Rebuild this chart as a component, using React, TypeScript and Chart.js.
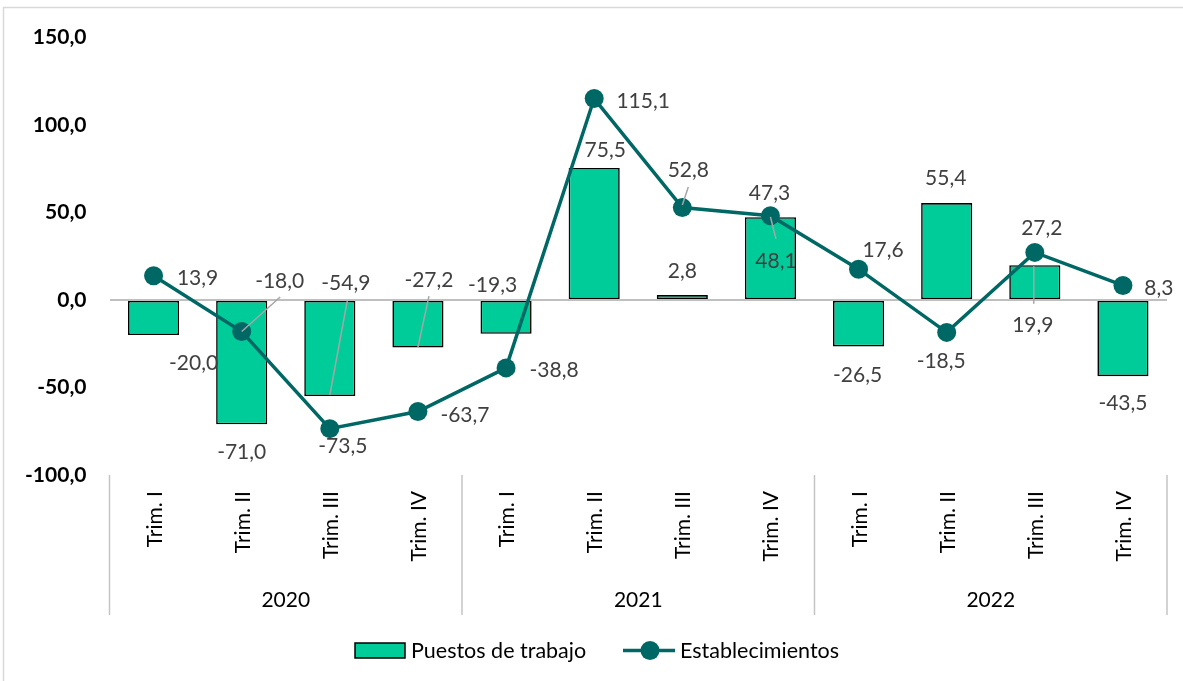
import { useEffect, useRef } from 'react';
import { Chart, registerables } from 'chart.js';

Chart.register(...registerables);

// ---- data ----
const quarters = ['Trim. I', 'Trim. II', 'Trim. III', 'Trim. IV', 'Trim. I', 'Trim. II', 'Trim. III', 'Trim. IV', 'Trim. I', 'Trim. II', 'Trim. III', 'Trim. IV'];
const years = ['2020', '2021', '2022'];
const quartersPerYear = 4;
const puestos = [-20.0, -71.0, -54.9, -27.2, -19.3, 75.5, 2.8, 47.3, -26.5, 55.4, 19.9, -43.5];
const establecimientos = [13.9, -18.0, -73.5, -63.7, -38.8, 115.1, 52.8, 48.1, 17.6, -18.5, 27.2, 8.3];
const yTicks = [-100, -50, 0, 50, 100, 150];
const seriesNames = ['Puestos de trabajo', 'Establecimientos'];

// ---- label placement (pixel offsets from the mark, styling only) ----
const barLabelOffsets = [[40, 27.5], [0, 27], [16, -113.5], [11, -68], [-13.5, -49], [11, -18.5], [0, -24.5], [-1, -25], [-1, 28], [-1, -25.5], [-2, 59], [0, 26.5]];
const lineLabelOffsets = [[44, 2], [38, -51], [13, 17], [47, 3], [48, 1.5], [49, 2], [6, -38], [5.5, 44.5], [24.5, -20], [-5.5, 28], [7, -25], [36, 2]];
// leaders: [labelDx, labelDy, markDx, markDy]
const barLeaders: Record<number, number[]> = { 2: [1.5, 18, 0, -1], 3: [0, 16.5, 0, -0.5], 10: [1, -20.5, -1, 1] };
const lineLeaders: Record<number, number[]> = { 1: [0.5, 16.5, 0, 0], 6: [0, 17.5, 0, -2.5], 7: [0, -21.5, 0, 1] };

const BAR = '#00CC99';
const LINE = '#006864';
const LABEL = '#404040';
const FONT = 'Lato, "Open Sans", sans-serif';

const fmt = (v: number) => v.toFixed(1).replace('.', ',');

const overlay = {
  id: 'overlay',
  afterDatasetsDraw(chart: any) {
    const ctx = chart.ctx;
    const bars = chart.getDatasetMeta(0).data;
    const pts = chart.getDatasetMeta(1).data;
    ctx.save();
    const drawSet = (els: any[], vals: number[], offs: number[][], leaders: Record<number, number[]>) => {
      els.forEach((el: any, i: number) => {
        const lx = el.x + offs[i][0];
        const ly = el.y + offs[i][1];
        const ld = leaders[i];
        if (ld) {
          ctx.strokeStyle = '#a6a6a6';
          ctx.lineWidth = 1.5;
          ctx.beginPath();
          ctx.moveTo(lx + ld[0], ly + ld[1]);
          ctx.lineTo(el.x + ld[2], el.y + ld[3]);
          ctx.stroke();
        }
        ctx.fillStyle = LABEL;
        ctx.font = `21px ${FONT}`;
        ctx.textAlign = 'center';
        ctx.textBaseline = 'alphabetic';
        ctx.fillText(fmt(vals[i]), lx, ly + 7.5);
      });
    };
    drawSet(bars, puestos, barLabelOffsets, barLeaders);
    drawSet(pts, establecimientos, lineLabelOffsets, lineLeaders);
    ctx.restore();
  },
  afterDraw(chart: any) {
    const ctx = chart.ctx;
    const x = chart.scales.x;
    const area = chart.chartArea;
    ctx.save();
    // outer border
    ctx.strokeStyle = '#d9d9d9';
    ctx.lineWidth = 1.5;
    ctx.strokeRect(3.5, 7.5, 1200, 700);

    // category labels (rotated)
    ctx.fillStyle = '#000';
    ctx.font = `21px ${FONT}`;
    quarters.forEach((q, i) => {
      const cx = x.getPixelForValue(i);
      ctx.save();
      ctx.translate(cx + 8, 491);
      ctx.rotate(-Math.PI / 2);
      ctx.textAlign = 'right';
      ctx.textBaseline = 'alphabetic';
      ctx.fillText(q, 0, 0);
      ctx.restore();
    });
    // group separators and year labels
    const catW = (area.right - area.left) / quarters.length;
    ctx.strokeStyle = '#c4c4c4';
    ctx.lineWidth = 1.5;
    for (let k = 0; k <= years.length; k++) {
      const sx = area.left + k * quartersPerYear * catW;
      ctx.beginPath();
      ctx.moveTo(sx, area.bottom);
      ctx.lineTo(sx, 615);
      ctx.stroke();
    }
    ctx.textAlign = 'center';
    ctx.textBaseline = 'alphabetic';
    years.forEach((y, k) => {
      const gx = area.left + (k + 0.5) * quartersPerYear * catW;
      ctx.fillText(y, gx, 607);
    });

    // legend
    ctx.font = `21.5px ${FONT}`;
    ctx.textAlign = 'left';
    ctx.fillStyle = BAR;
    ctx.fillRect(355, 643, 50, 15);
    ctx.strokeStyle = '#000';
    ctx.lineWidth = 1.5;
    ctx.strokeRect(355, 643, 50, 15);
    ctx.fillStyle = '#000';
    ctx.fillText(seriesNames[0], 411, 658);

    ctx.strokeStyle = LINE;
    ctx.lineWidth = 3.5;
    ctx.beginPath();
    ctx.moveTo(623, 650.5);
    ctx.lineTo(675, 650.5);
    ctx.stroke();
    ctx.fillStyle = LINE;
    ctx.beginPath();
    ctx.arc(650, 650.5, 9.5, 0, Math.PI * 2);
    ctx.fill();
    ctx.fillStyle = '#000';
    ctx.fillText(seriesNames[1], 680, 658);
    ctx.restore();
  },
};

export default function App() {
  const ref = useRef<HTMLCanvasElement>(null);
  useEffect(() => {
    const canvas = ref.current!;
    const chart = new Chart(canvas, {
      type: 'bar',
      data: {
        labels: quarters,
        datasets: [
          {
            type: 'bar',
            label: seriesNames[0],
            data: puestos,
            backgroundColor: BAR,
            borderColor: '#000',
            borderWidth: 1.6,
            borderSkipped: false,
            barPercentage: 0.58,
            categoryPercentage: 1,
            order: 1,
          } as any,
          {
            type: 'line',
            label: seriesNames[1],
            data: establecimientos,
            borderColor: LINE,
            backgroundColor: LINE,
            borderWidth: 3.5,
            pointRadius: 9.5,
            pointBackgroundColor: LINE,
            pointBorderColor: LINE,
            pointBorderWidth: 0,
            tension: 0,
            order: 0,
          } as any,
        ],
      },
      options: {
        responsive: false,
        animation: false,
        devicePixelRatio: 1,
        layout: { padding: { left: 0, right: 16, top: 37.5, bottom: 206 } },
        plugins: { legend: { display: false }, tooltip: { enabled: false } },
        scales: {
          x: { display: false },
          y: {
            min: -100,
            max: 150,
            afterBuildTicks: (s: any) => {
              s.ticks = yTicks.map((v) => ({ value: v }));
            },
            afterFit: (s: any) => {
              s.width = 109.5;
            },
            border: { display: false },
            grid: {
              drawTicks: false,
              color: (c: any) => (c.tick && c.tick.value === 0 ? '#bfbfbf' : 'rgba(0,0,0,0)'),
              lineWidth: 2,
            },
            ticks: {
              padding: 23,
              color: '#000',
              font: { family: FONT, size: 21, weight: 'bold' },
              callback: (v: any) => fmt(Number(v)),
            },
          },
        },
      } as any,
      plugins: [overlay],
    });
    return () => chart.destroy();
  }, []);
  return (
    <div style={{ position: 'absolute', left: 0, top: 0, width: 1183, height: 681, background: '#fff' }}>
      <canvas ref={ref} width={1183} height={681} style={{ display: 'block' }} />
    </div>
  );
}
